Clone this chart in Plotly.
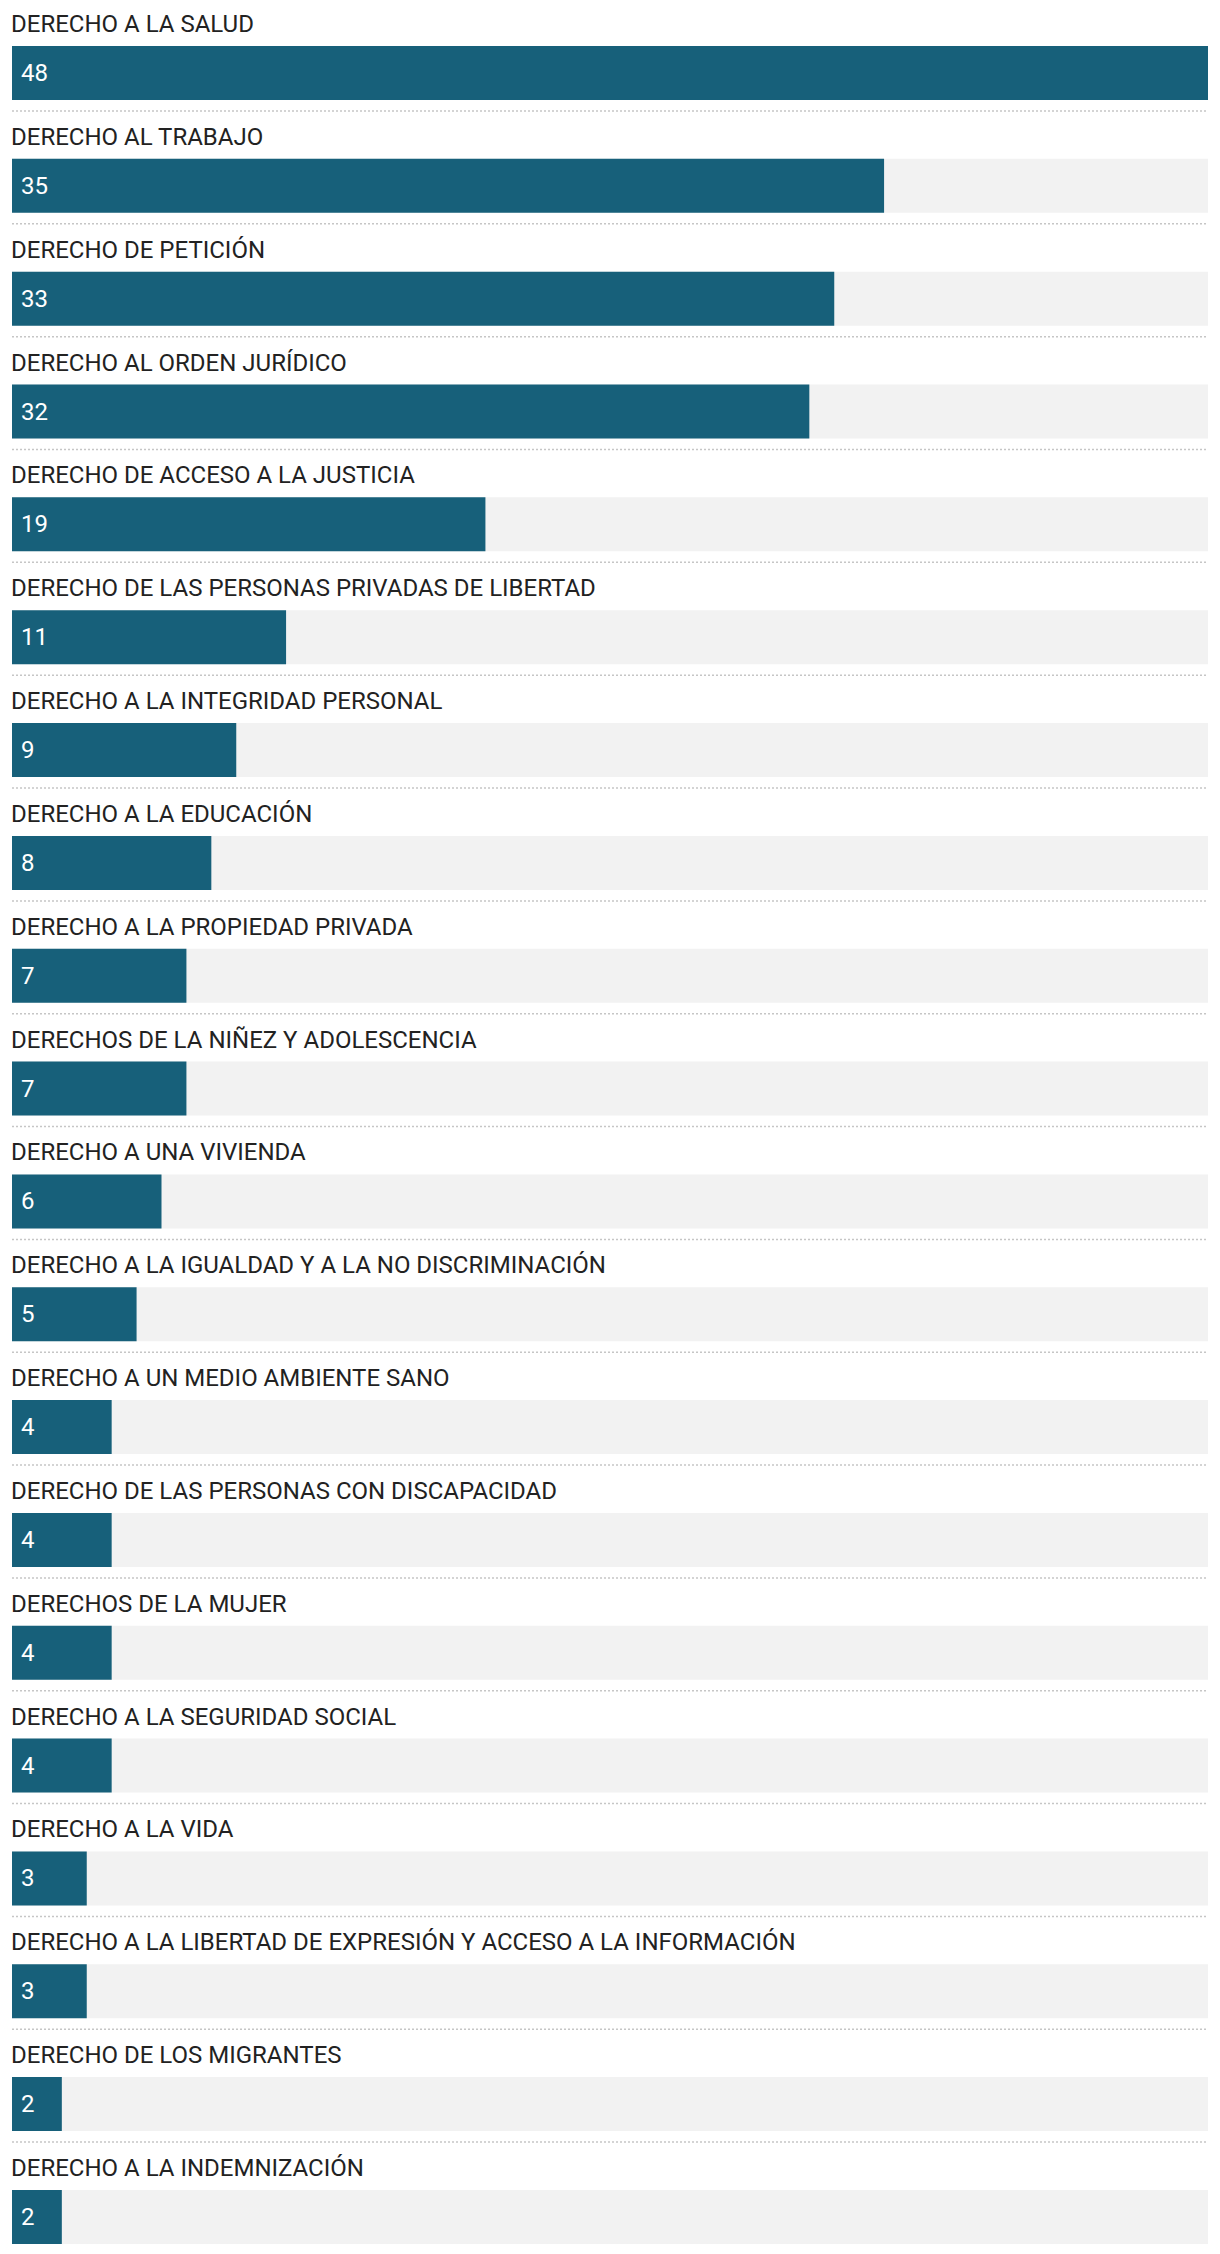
import plotly.graph_objects as go

categories = [
    "DERECHO A LA SALUD",
    "DERECHO AL TRABAJO",
    "DERECHO DE PETICIÓN",
    "DERECHO AL ORDEN JURÍDICO",
    "DERECHO DE ACCESO A LA JUSTICIA",
    "DERECHO DE LAS PERSONAS PRIVADAS DE LIBERTAD",
    "DERECHO A LA INTEGRIDAD PERSONAL",
    "DERECHO A LA EDUCACIÓN",
    "DERECHO A LA PROPIEDAD PRIVADA",
    "DERECHOS DE LA NIÑEZ Y ADOLESCENCIA",
    "DERECHO A UNA VIVIENDA",
    "DERECHO A LA IGUALDAD Y A LA NO DISCRIMINACIÓN",
    "DERECHO A UN MEDIO AMBIENTE SANO",
    "DERECHO DE LAS PERSONAS CON DISCAPACIDAD",
    "DERECHOS DE LA MUJER",
    "DERECHO A LA SEGURIDAD SOCIAL",
    "DERECHO A LA VIDA",
    "DERECHO A LA LIBERTAD DE EXPRESIÓN Y ACCESO A LA INFORMACIÓN",
    "DERECHO DE LOS MIGRANTES",
    "DERECHO A LA INDEMNIZACIÓN",
]
values = [48, 35, 33, 32, 19, 11, 9, 8, 7, 7, 6, 5, 4, 4, 4, 4, 3, 3, 2, 2]

BAR_COLOR = "#17607a"
TRACK_COLOR = "#f2f2f2"
LABEL_COLOR = "#222222"
DOT_COLOR = "#c6c6c6"

W, H = 1220, 2254
PITCH = 112.84          # px per row
BAR_PX = 54             # bar thickness px
FIRST_CENTER = 73       # px of first bar centre

n = len(categories)
rows = list(range(n))
xmax = max(values)

bw = BAR_PX / PITCH
y_top = -FIRST_CENTER / PITCH
y_bot = (H - FIRST_CENTER) / PITCH

fig = go.Figure()
fig.add_trace(go.Bar(
    x=[xmax] * n, y=rows, orientation="h", width=bw,
    marker=dict(color=TRACK_COLOR, line=dict(width=0)),
    hoverinfo="skip", showlegend=False,
))
fig.add_trace(go.Bar(
    x=values, y=rows, orientation="h", width=bw,
    marker=dict(color=BAR_COLOR, line=dict(width=0)),
    hoverinfo="skip", showlegend=False,
))

annotations = []
for i, (c, v) in enumerate(zip(categories, values)):
    annotations.append(dict(
        x=0, y=i, xref="x", yref="y", text=c, showarrow=False,
        xanchor="left", yanchor="middle", yshift=(BAR_PX / 2 + 22), xshift=-3,
        font=dict(family="Roboto", size=24, color=LABEL_COLOR),
    ))
    annotations.append(dict(
        x=0, y=i, xref="x", yref="y", text=str(v), showarrow=False,
        xanchor="left", yanchor="middle", xshift=7,
        font=dict(family="Roboto", size=24, color="#ffffff"),
    ))

shapes = []
for i in rows[:-1]:
    yl = i + (111 - FIRST_CENTER) / PITCH
    shapes.append(dict(
        type="line", xref="x", yref="y", x0=0, x1=xmax, y0=yl, y1=yl,
        line=dict(color=DOT_COLOR, width=1.5, dash="2px,2px"),
        layer="below",
    ))

fig.update_layout(
    width=W, height=H,
    margin=dict(l=12, r=12, t=0, b=0),
    barmode="overlay",
    plot_bgcolor="white", paper_bgcolor="white",
    xaxis=dict(range=[0, xmax], visible=False, fixedrange=True),
    yaxis=dict(range=[y_bot, y_top], visible=False, fixedrange=True),
    annotations=annotations, shapes=shapes,
    font=dict(family="Roboto"),
)

fig.write_html("out.html", config={"displayModeBar": False})
